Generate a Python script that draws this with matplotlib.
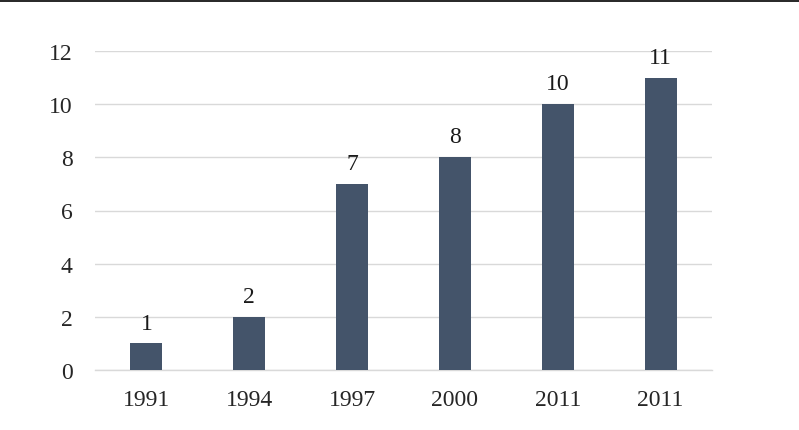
import matplotlib.pyplot as plt
import matplotlib.patches as patches

years = ['1991', '1994', '1997', '2000', '2011', '2011']
counts = [1, 2, 7, 8, 10, 11]

plt.rcParams['font.family'] = ['Liberation Serif', 'DejaVu Serif']

fig = plt.figure(figsize=(7.99, 4.31), dpi=100)
ax = fig.add_axes([95 / 799, 1 - 371 / 431, 617 / 799, 319 / 431])

x = range(len(years))
ax.bar(x, counts, width=0.31, color='#44546a', zorder=3)
for i, v in zip(x, counts):
    ax.text(i, v + 0.37, str(v), ha='center', va='bottom', fontsize=17, color='#1a1a1a')

ax.set_xlim(-0.5, len(years) - 0.5)
ax.set_ylim(0, 12)
ax.set_yticks(range(0, 13, 2))
ax.set_xticks(list(x))
ax.set_xticklabels(years)
ax.grid(axis='y', color='#d9d9d9', linewidth=1, zorder=0)
ax.axhline(0, color='#d9d9d9', linewidth=1, zorder=1, clip_on=False)
for s in ax.spines.values():
    s.set_visible(False)
ax.tick_params(length=0, labelsize=17, colors='#262626', pad=14)
ax.tick_params(axis='y', pad=16)

# dark rule along the top edge
fig.add_artist(patches.Rectangle((0, 1 - 3 / 431), 1, 3 / 431, transform=fig.transFigure,
                                 color='#2b2b2b', linewidth=0))

fig.savefig('out.png', dpi=100)
